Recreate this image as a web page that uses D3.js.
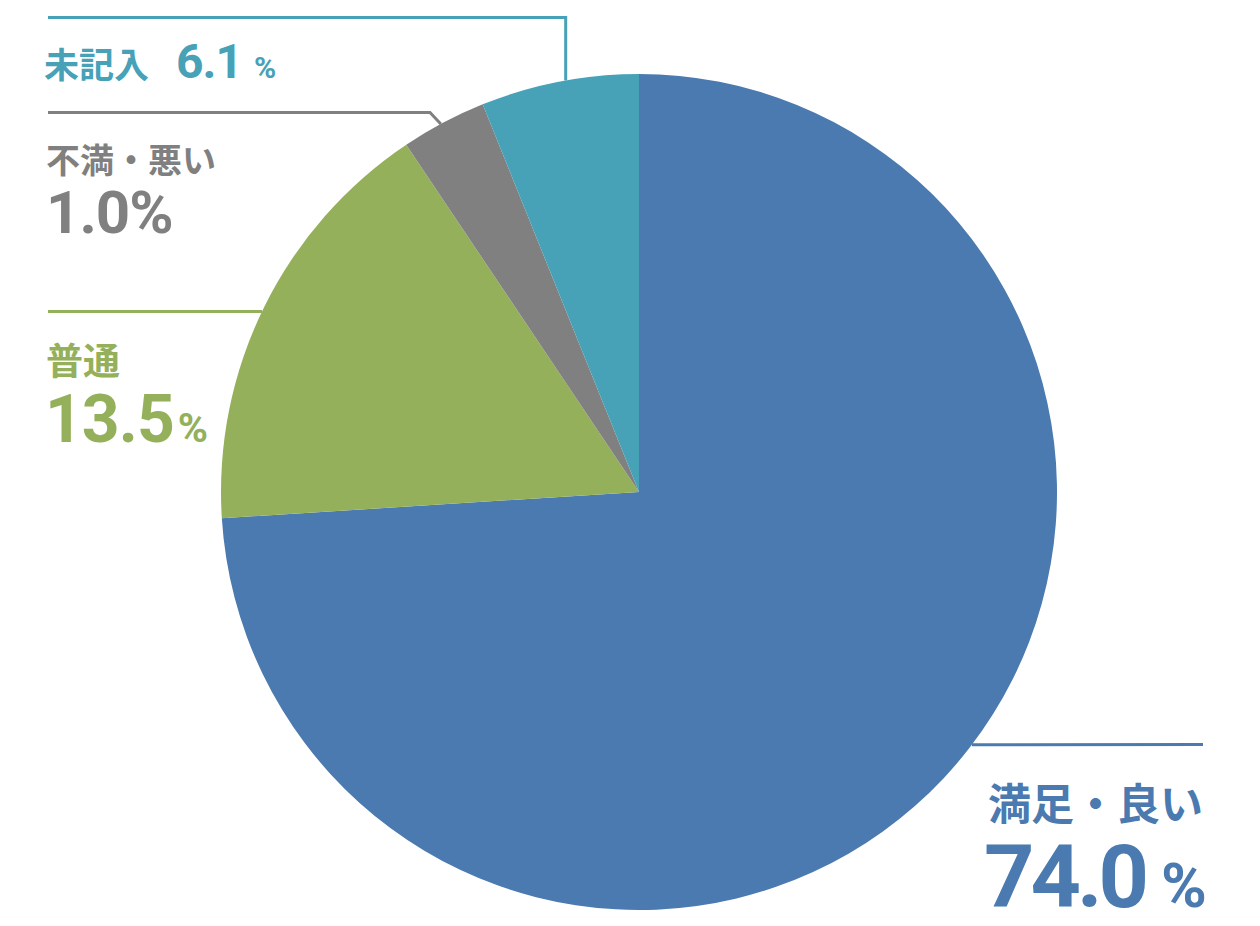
<!DOCTYPE html>
<html>
<head>
<meta charset="utf-8">
<script src="https://cdn.jsdelivr.net/npm/d3@7"></script>
<style>
  html, body { margin: 0; padding: 0; background: #fff; }
  text { font-weight: 700; }
</style>
</head>
<body>
<div id="chart"></div>
<script>
var categories = ["満足・良い", "普通", "不満・悪い", "未記入"];
var sliceValues = [74.0, 16.6, 3.3, 6.1];
// the percentages printed beside the pie
var labelNumbers = ["74.0", "13.5", "1.0", "6.1"];
var colors = ["#4a7aaf", "#95b05a", "#808080", "#47a1b7"];

var svgWidth = 1260;
var svgHeight = 926;

var cx = 639, cy = 492, radius = 418;

var svg = d3.select("#chart")
  .append("svg")
  .attr("width", svgWidth)
  .attr("height", svgHeight);

var pieGroup = svg.append("g")
  .attr("transform", `translate(${cx}, ${cy})`);

var pie = d3.pie().sort(null).value(d => d);
var arc = d3.arc().innerRadius(0).outerRadius(radius);
var arcs = pie(sliceValues);

pieGroup.selectAll("path")
  .data(arcs)
  .enter()
  .append("path")
  .attr("d", arc)
  .attr("fill", (d, i) => colors[i]);

// point on the rim at a given angle (deg, clockwise from top)
function rim(deg) {
  var a = deg * Math.PI / 180;
  return [cx + radius * Math.sin(a), cy - radius * Math.cos(a)];
}

// leader lines
function leader(points, color) {
  svg.append("path")
    .attr("d", d3.line()(points))
    .attr("fill", "none")
    .attr("stroke", color)
    .attr("stroke-width", 3);
}

var pTeal = rim(349.9);
leader([[48, 17.5], [pTeal[0], 17.5], pTeal], colors[3]);
var pGray = rim(331.7);
leader([[48, 112.5], [430, 112.5], pGray], colors[2]);
var pGreen = rim(295.6);
leader([[48, 311.5], pGreen], colors[1]);
var pBlue = rim(127.2);
leader([pBlue, [1203, 744.5]], colors[0]);

var jp = "'Noto Sans CJK JP', sans-serif";
var num = "Roboto, 'Noto Sans CJK JP', sans-serif";

// 未記入
var t = svg.append("text").attr("x", 44).attr("y", 78).attr("fill", colors[3]);
t.append("tspan").attr("font-family", jp).attr("font-size", 35).text(categories[3]);
t.append("tspan").attr("font-family", num).attr("font-size", 48)
  .attr("letter-spacing", -1).attr("dx", 27).text(labelNumbers[3]);
t.append("tspan").attr("font-family", num).attr("font-size", 30).attr("dx", 12).text("%");

// 不満・悪い
svg.append("text").attr("x", 46).attr("y", 173).attr("fill", colors[2])
  .attr("font-family", jp).attr("font-size", 34).text(categories[2]);
svg.append("text").attr("x", 46).attr("y", 233).attr("fill", colors[2])
  .attr("font-family", num).attr("font-size", 60).attr("letter-spacing", -1)
  .text(labelNumbers[2] + "%");

// 普通
svg.append("text").attr("x", 46).attr("y", 375).attr("fill", colors[1])
  .attr("font-family", jp).attr("font-size", 37).text(categories[1]);
var t2 = svg.append("text").attr("x", 45).attr("y", 442).attr("fill", colors[1]);
t2.append("tspan").attr("font-family", num).attr("font-size", 66)
  .attr("letter-spacing", -1).text(labelNumbers[1]);
t2.append("tspan").attr("font-family", num).attr("font-size", 41).attr("dx", 4).text("%");

// 満足・良い
svg.append("text").attr("x", 988).attr("y", 820).attr("fill", colors[0])
  .attr("font-family", jp).attr("font-size", 43).text(categories[0]);
var t3 = svg.append("text").attr("x", 984).attr("y", 907).attr("fill", colors[0]);
t3.append("tspan").attr("font-family", num).attr("font-size", 88)
  .attr("letter-spacing", -4).text(labelNumbers[0]);
t3.append("tspan").attr("font-family", num).attr("font-size", 62).attr("dx", 16).text("%");
</script>
</body>
</html>
